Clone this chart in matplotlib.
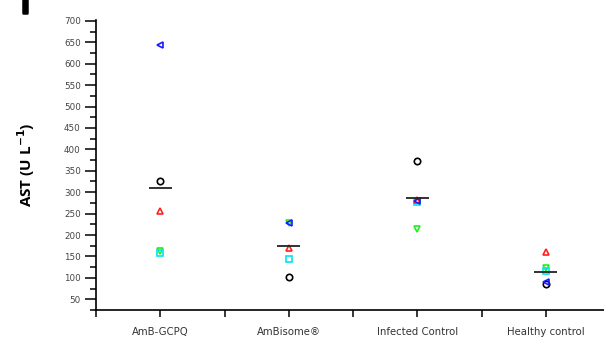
import matplotlib
matplotlib.use("Agg")
import matplotlib.pyplot as plt
import matplotlib.patheffects as pe
from matplotlib.ticker import MultipleLocator

groups = ["AmB-GCPQ", "AmBisome\u00ae", "Infected Control", "Healthy control"]

# one value per animal in each group (AST, U/L)
circle_vals = [325, 103, 374, 86]       # black open circles
up_tri_vals = [256, 170, 282, 160]      # red up triangles
down_tri_vals = [163, 227, 214, 122]    # green down triangles
left_tri_vals = [644, 227, 280, 90]     # blue left triangles
square_vals = [158, 143, 278, 116]      # cyan squares

yticks = list(range(50, 701, 50))

series = [
    (circle_vals, "o", "black"),
    (down_tri_vals, "v", "#22ee22"),
    (square_vals, "s", "#00e5ee"),
    (up_tri_vals, "^", "#ff2020"),
    (left_tri_vals, "<", "#1a1aff"),
]

fig = plt.figure(figsize=(6.04, 3.51), dpi=100)
W, H = 604, 351
ax = fig.add_axes([96 / W, 41 / H, (610 - 96) / W, 290 / H])

x = list(range(1, len(groups) + 1))
for vals, m, c in series:
    ax.plot(x, vals, linestyle="none", marker=m, markersize=4.6,
            markerfacecolor="none", markeredgecolor=c, markeredgewidth=1.2)

# group means
for i, xi in enumerate(x):
    vals = [s[0][i] for s in series]
    mean = sum(vals) / len(vals)
    ax.hlines(mean, xi - 0.09, xi + 0.09, color="#222222", linewidth=1.3, zorder=3)

ax.set_xlim(0.5, 4.5)
ax.set_ylim(25, 702)
ax.set_xticks(x)
ax.set_xticklabels(groups, fontsize=7.3, color="#333333")
ax.xaxis.set_minor_locator(MultipleLocator(0.5))
ax.set_yticks(yticks)
ax.set_yticklabels([str(v) for v in yticks], fontsize=6.3, color="#444444")
ax.yaxis.set_minor_locator(MultipleLocator(25))

for side in ["top", "right"]:
    ax.spines[side].set_visible(False)
for side in ["left", "bottom"]:
    ax.spines[side].set_linewidth(1.2)

ax.tick_params(axis="y", which="major", direction="out", length=8, width=1.1, pad=3)
ax.tick_params(axis="y", which="minor", direction="out", length=4, width=1.1)
ax.tick_params(axis="x", which="both", direction="out", length=5, width=1.1, pad=7)

ax.set_ylabel("AST (U L$^{\\mathbf{-1}}$)", fontsize=11, fontweight="bold",
              family="Open Sans", labelpad=19)

fig.text(25 / W, 1 - 13 / H, "I", fontsize=13, fontweight="bold",
         ha="center", va="baseline",
         path_effects=[pe.withStroke(linewidth=1.8, foreground="black")])

fig.savefig("out.png", dpi=100)
